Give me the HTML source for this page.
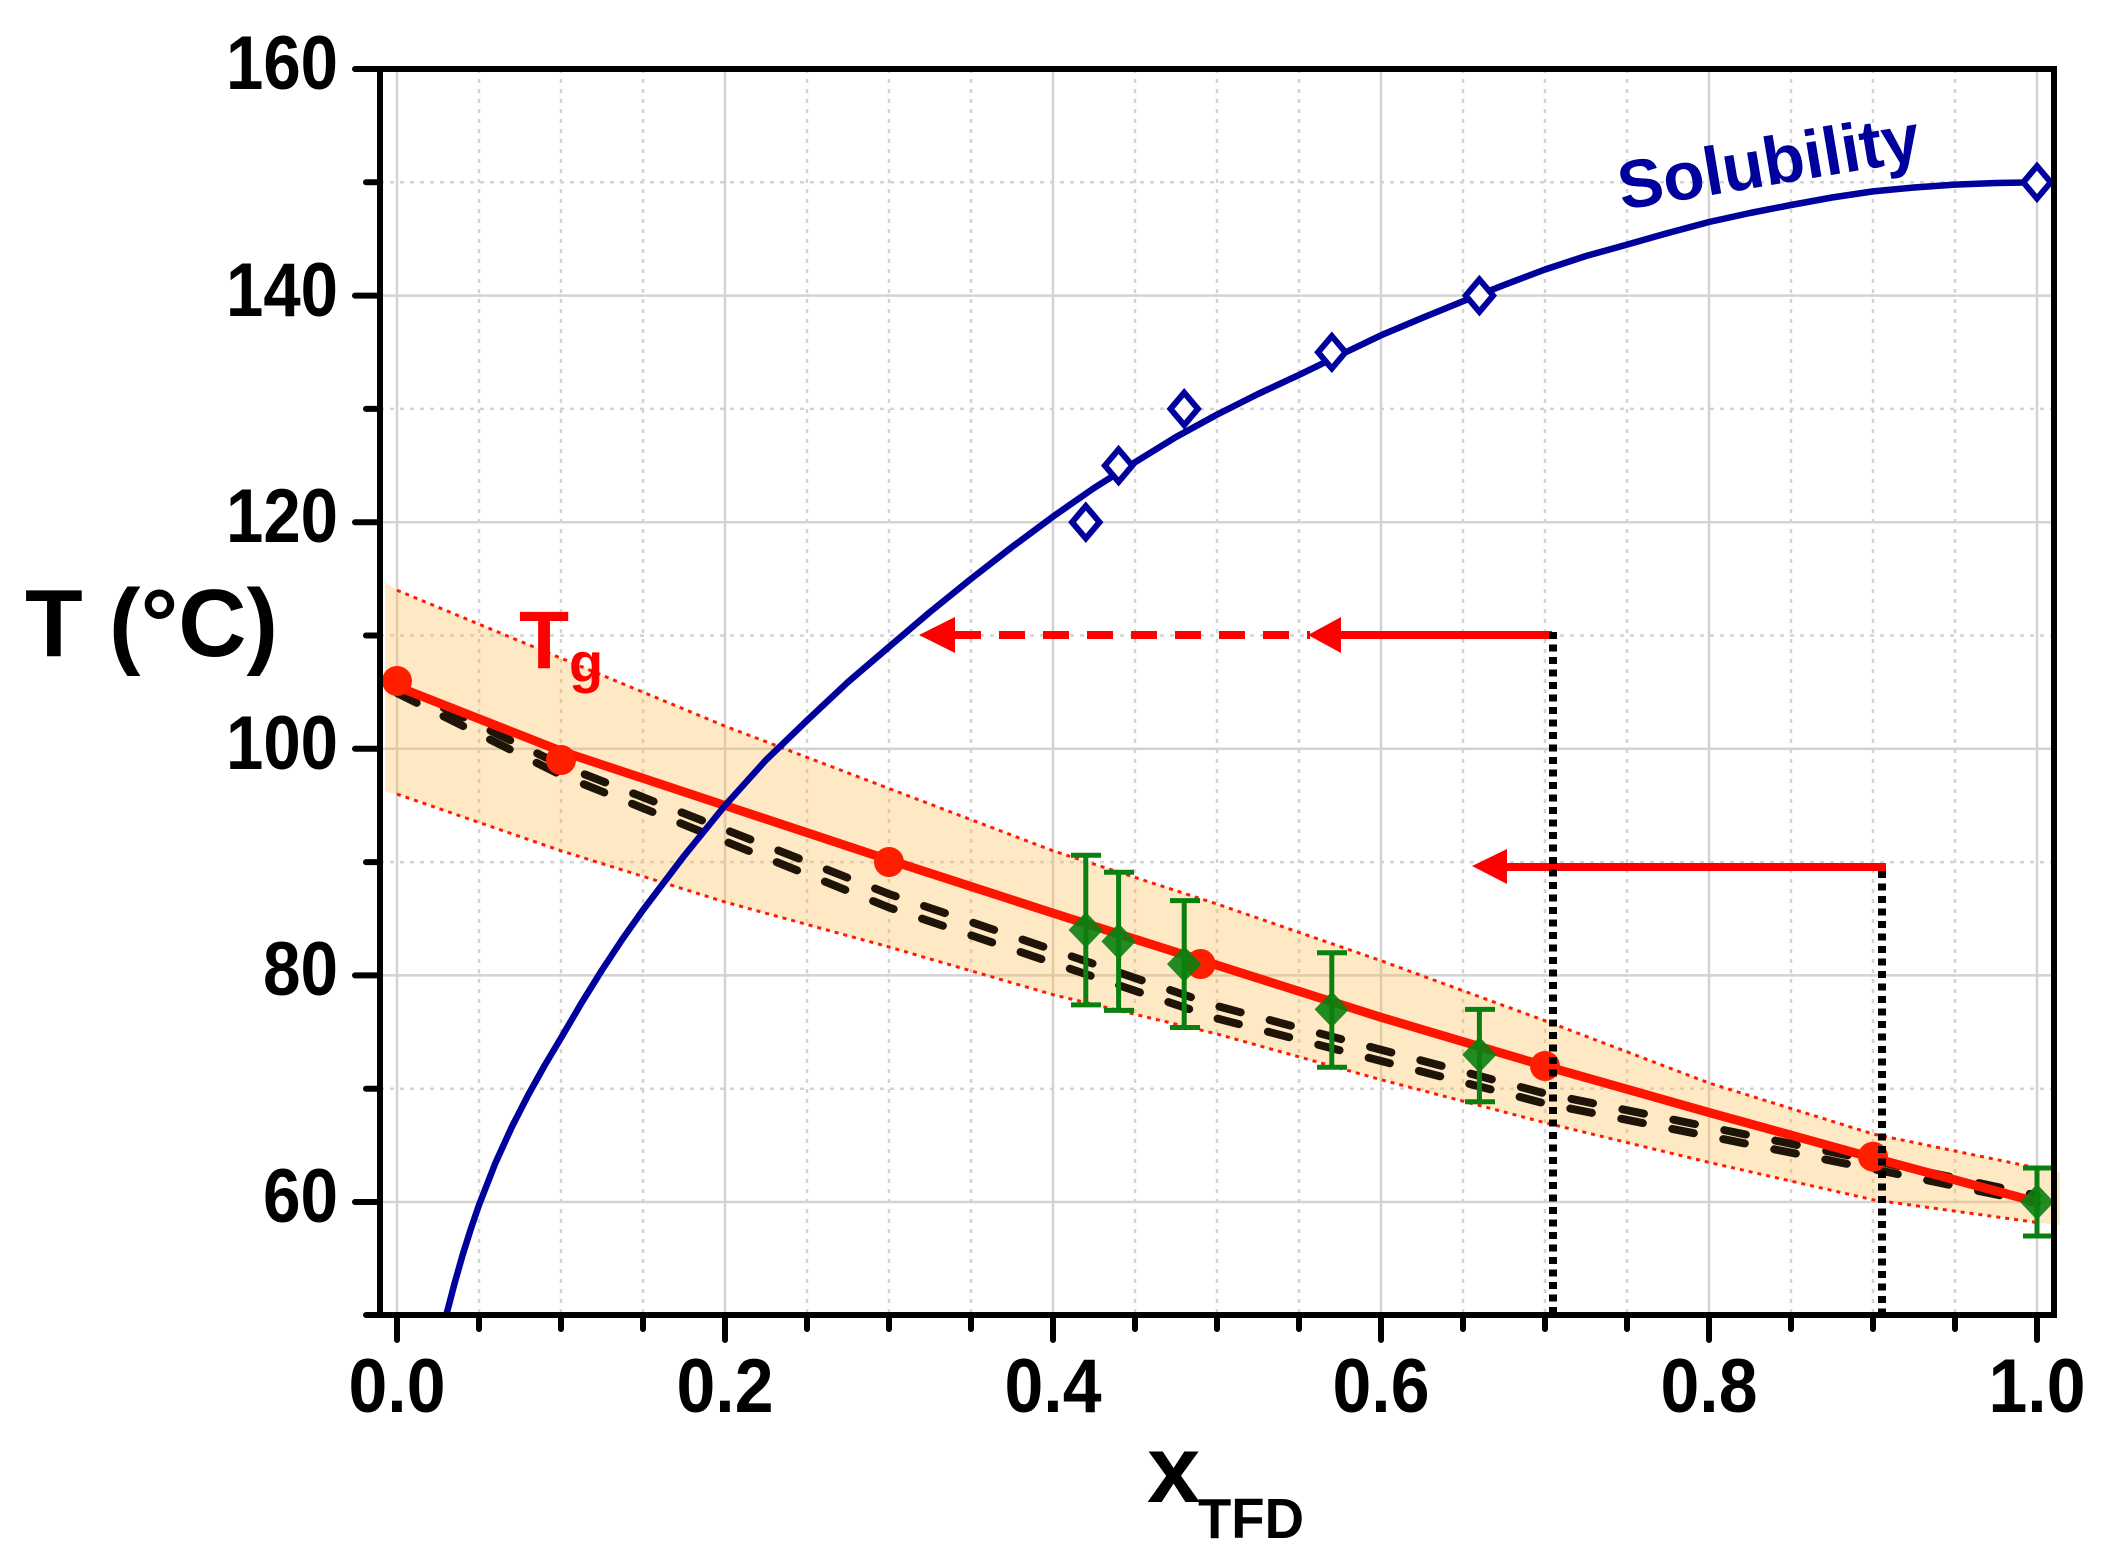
<!DOCTYPE html>
<html><head><meta charset="utf-8"><style>html,body{margin:0;padding:0;background:#fff}svg{display:block}</style></head>
<body>
<svg width="2110" height="1564" viewBox="0 0 2110 1564" xmlns="http://www.w3.org/2000/svg" font-family="'Liberation Sans', Arial, sans-serif" font-weight="bold">
<rect width="2110" height="1564" fill="#fff"/>
<!-- grid -->
<g stroke="#d3d3d3" stroke-width="2.5" fill="none">
  <g stroke-dasharray="4 6">
    <line x1="479" y1="69" x2="479" y2="1315"/><line x1="561" y1="69" x2="561" y2="1315"/><line x1="643" y1="69" x2="643" y2="1315"/>
    <line x1="807" y1="69" x2="807" y2="1315"/><line x1="889" y1="69" x2="889" y2="1315"/><line x1="971" y1="69" x2="971" y2="1315"/>
    <line x1="1135" y1="69" x2="1135" y2="1315"/><line x1="1217" y1="69" x2="1217" y2="1315"/><line x1="1299" y1="69" x2="1299" y2="1315"/>
    <line x1="1463" y1="69" x2="1463" y2="1315"/><line x1="1545" y1="69" x2="1545" y2="1315"/><line x1="1627" y1="69" x2="1627" y2="1315"/>
    <line x1="1791" y1="69" x2="1791" y2="1315"/><line x1="1873" y1="69" x2="1873" y2="1315"/><line x1="1955" y1="69" x2="1955" y2="1315"/>
    <line x1="380" y1="182.3" x2="2054" y2="182.3"/><line x1="380" y1="408.9" x2="2054" y2="408.9"/><line x1="380" y1="635.5" x2="2054" y2="635.5"/>
    <line x1="380" y1="862.1" x2="2054" y2="862.1"/><line x1="380" y1="1088.7" x2="2054" y2="1088.7"/>
  </g>
  <line x1="397" y1="69" x2="397" y2="1315"/><line x1="725" y1="69" x2="725" y2="1315"/><line x1="1053" y1="69" x2="1053" y2="1315"/>
  <line x1="1381" y1="69" x2="1381" y2="1315"/><line x1="1709" y1="69" x2="1709" y2="1315"/><line x1="2037" y1="69" x2="2037" y2="1315"/>
  <line x1="380" y1="295.6" x2="2054" y2="295.6"/><line x1="380" y1="522.2" x2="2054" y2="522.2"/><line x1="380" y1="748.8" x2="2054" y2="748.8"/>
  <line x1="380" y1="975.4" x2="2054" y2="975.4"/><line x1="380" y1="1202" x2="2054" y2="1202"/>
</g>
<!-- band -->
<polygon fill="#ffb84d" fill-opacity="0.33" points="385,582 397,590.2 561,658.2 725,726.1 889,788.5 1053,850.8 1217,904 1381,960.7 1545,1020.7 1709,1083 1873,1134 2037,1168 2060,1172 2060,1225 2037,1222.5 1873,1199.8 1709,1162.4 1545,1122.7 1381,1079.7 1217,1034 1053,994.7 889,947 725,902 561,850.8 397,794.1 385,792"/>
<g fill="none" stroke="#ff1a00" stroke-width="3" stroke-dasharray="4 5">
  <polyline points="397,590.2 561,658.2 725,726.1 889,788.5 1053,850.8 1217,904 1381,960.7 1545,1020.7 1709,1083 1873,1134 2037,1168"/>
  <polyline points="397,794.1 561,850.8 725,902 889,947 1053,994.7 1217,1034 1381,1079.7 1545,1122.7 1709,1162.4 1873,1199.8 2037,1222.5"/>
</g>
<!-- black dashed double lines -->
<g fill="none" stroke="#1e1408" stroke-width="8" stroke-dasharray="22 30" stroke-linecap="round">
  <polyline points="397,685 561,765 889,894 1217,1006 1545,1093.5 1873,1160.5 2037,1195.5"/>
  <polyline points="397,693 561,775 889,907.5 1217,1018.5 1545,1103.5 1873,1169 2037,1203"/>
</g>
<!-- red Tg line -->
<polyline fill="none" stroke="#ff1400" stroke-width="9" stroke-linejoin="round" points="397,686.5 561,751.1 725,805.5 889,859.9 1053,913.1 1217,965.2 1381,1017.3 1545,1066 1709,1112.5 1873,1157.8 2037,1202"/>
<g fill="#ff1e00">
  <circle cx="397" cy="681" r="15"/><circle cx="561" cy="760" r="15"/><circle cx="889" cy="862" r="15"/>
  <circle cx="1200.6" cy="964" r="15"/><circle cx="1545" cy="1066" r="15"/><circle cx="1873" cy="1156.7" r="15"/>
</g>
<!-- green error bars -->
<g stroke="#0a8010" stroke-width="5" fill="none">
  <path d="M1085.8 855.3V1004.9M1071 855.3h30M1071 1004.9h30"/>
  <path d="M1118.6 872.3V1010.4M1104 872.3h30M1104 1010.4h30"/>
  <path d="M1184.2 900.6V1027.5M1170 900.6h30M1170 1027.5h30"/>
  <path d="M1331.8 952.7V1067.2M1317 952.7h30M1317 1067.2h30"/>
  <path d="M1479.4 1009.4V1101.8M1465 1009.4h30M1465 1101.8h30"/>
  <path d="M2037 1168V1236M2023 1168h30M2023 1236h30"/>
</g>
<g fill="#0a8010" fill-opacity="0.9">
  <polygon points="1085.8,912 1103,930 1085.8,948 1068.6,930"/>
  <polygon points="1118.6,923.4 1135.8,941.4 1118.6,959.4 1101.4,941.4"/>
  <polygon points="1184.2,946.1 1201.4,964.1 1184.2,982.1 1167,964.1"/>
  <polygon points="1331.8,991.4 1349,1009.4 1331.8,1027.4 1314.6,1009.4"/>
  <polygon points="1479.4,1036.7 1496.6,1054.7 1479.4,1072.7 1462.2,1054.7"/>
  <polygon points="2037,1184 2054,1202 2037,1220 2020,1202"/>
</g>
<!-- solubility -->
<polyline fill="none" stroke="#00009c" stroke-width="6.5" stroke-linejoin="round" points="446.2,1315.3 454.4,1284 462.6,1255 470.8,1229 479,1205 495.4,1163 511.8,1127 528.2,1095 544.6,1065.5 561,1038 581.5,1003 602,970 622.5,939 643,910 684,856 725,805.5 766,760 807,720.5 848,682 889,646.9 930,612 971,578.9 1012,547 1053,516.6 1094,488 1135,462.2 1176,437 1217,414.6 1258,394 1299,374.9 1340,355 1381,335.3 1422,318 1463,301.3 1504,285 1545,269.5 1586,256 1627,244.6 1668,233 1709,222 1750,213 1791,205 1832,197.5 1873,191.4 1914,187.5 1955,184.6 1996,183 2037,182.3"/>
<g fill="#fff" stroke="#00009c" stroke-width="6">
  <polygon points="1085.8,506 1099.5,522.2 1085.8,538.4 1072.1,522.2"/>
  <polygon points="1118.6,449.4 1132.3,465.6 1118.6,481.8 1104.9,465.6"/>
  <polygon points="1184.2,392.7 1197.9,408.9 1184.2,425.1 1170.5,408.9"/>
  <polygon points="1331.8,336.1 1345.5,352.3 1331.8,368.5 1318.1,352.3"/>
  <polygon points="1479.4,279.4 1493.1,295.6 1479.4,311.8 1465.7,295.6"/>
  <polygon points="2037,166.1 2050.7,182.3 2037,198.5 2023.3,182.3"/>
</g>
<!-- arrows -->
<g stroke="#ff0000" stroke-width="8" fill="none">
  <line x1="1340" y1="635" x2="1552" y2="635"/>
  <line x1="955" y1="635" x2="1310" y2="635" stroke-dasharray="26 18"/>
  <line x1="1505" y1="867" x2="1886" y2="867"/>
</g>
<g fill="#ff0000">
  <polygon points="919,635 955,617 955,653"/>
  <polygon points="1308,635 1341,617 1341,653"/>
  <polygon points="1472,866 1507,849 1507,884"/>
</g>
<g stroke="#000" stroke-width="8" stroke-dasharray="7 5.5">
  <line x1="1553" y1="632" x2="1553" y2="1312"/>
  <line x1="1882" y1="871" x2="1882" y2="1312"/>
</g>
<!-- axes -->
<g stroke="#000" stroke-width="6" stroke-linecap="round" fill="none">
  <rect x="380" y="69" width="1674" height="1246"/>
  <path d="M397 1315v25M725 1315v25M1053 1315v25M1381 1315v25M1709 1315v25M2037 1315v25"/>
  <path d="M479 1315v14M561 1315v14M643 1315v14M807 1315v14M889 1315v14M971 1315v14M1135 1315v14M1217 1315v14M1299 1315v14M1463 1315v14M1545 1315v14M1627 1315v14M1791 1315v14M1873 1315v14M1955 1315v14"/>
  <path d="M355 69h25M355 295.6h25M355 522.2h25M355 748.8h25M355 975.4h25M355 1202h25"/>
  <path d="M366 182.3h14M366 408.9h14M366 635.5h14M366 862.1h14M366 1088.7h14M366 1315h14"/>
</g>
<!-- tick labels -->
<g font-size="76" fill="#000" text-anchor="middle">
  <text x="397" y="1412" textLength="97" lengthAdjust="spacingAndGlyphs">0.0</text>
  <text x="725" y="1412" textLength="97" lengthAdjust="spacingAndGlyphs">0.2</text>
  <text x="1053" y="1412" textLength="97" lengthAdjust="spacingAndGlyphs">0.4</text>
  <text x="1381" y="1412" textLength="97" lengthAdjust="spacingAndGlyphs">0.6</text>
  <text x="1709" y="1412" textLength="97" lengthAdjust="spacingAndGlyphs">0.8</text>
  <text x="2037" y="1412" textLength="97" lengthAdjust="spacingAndGlyphs">1.0</text>
</g>
<g font-size="76" fill="#000" text-anchor="end">
  <text x="338" y="89" textLength="112" lengthAdjust="spacingAndGlyphs">160</text>
  <text x="338" y="316" textLength="112" lengthAdjust="spacingAndGlyphs">140</text>
  <text x="338" y="542" textLength="112" lengthAdjust="spacingAndGlyphs">120</text>
  <text x="338" y="769" textLength="112" lengthAdjust="spacingAndGlyphs">100</text>
  <text x="338" y="995" textLength="75" lengthAdjust="spacingAndGlyphs">80</text>
  <text x="338" y="1222" textLength="75" lengthAdjust="spacingAndGlyphs">60</text>
</g>
<!-- axis labels -->
<text x="25" y="656" font-size="96" fill="#000" textLength="253" lengthAdjust="spacingAndGlyphs">T (°C)</text>
<text x="1147" y="1502" font-size="96" fill="#000">x</text>
<text x="1198" y="1538" font-size="57" fill="#000" textLength="106" lengthAdjust="spacingAndGlyphs">TFD</text>
<text x="519" y="668" font-size="82" fill="#ff0000">T</text>
<text x="569" y="682" font-size="56" fill="#ff0000">g</text>
<text x="1622" y="210" font-size="68" fill="#00009c" textLength="305" lengthAdjust="spacingAndGlyphs" transform="rotate(-9.5 1622 210)">Solubility</text>
</svg>
</body></html>
